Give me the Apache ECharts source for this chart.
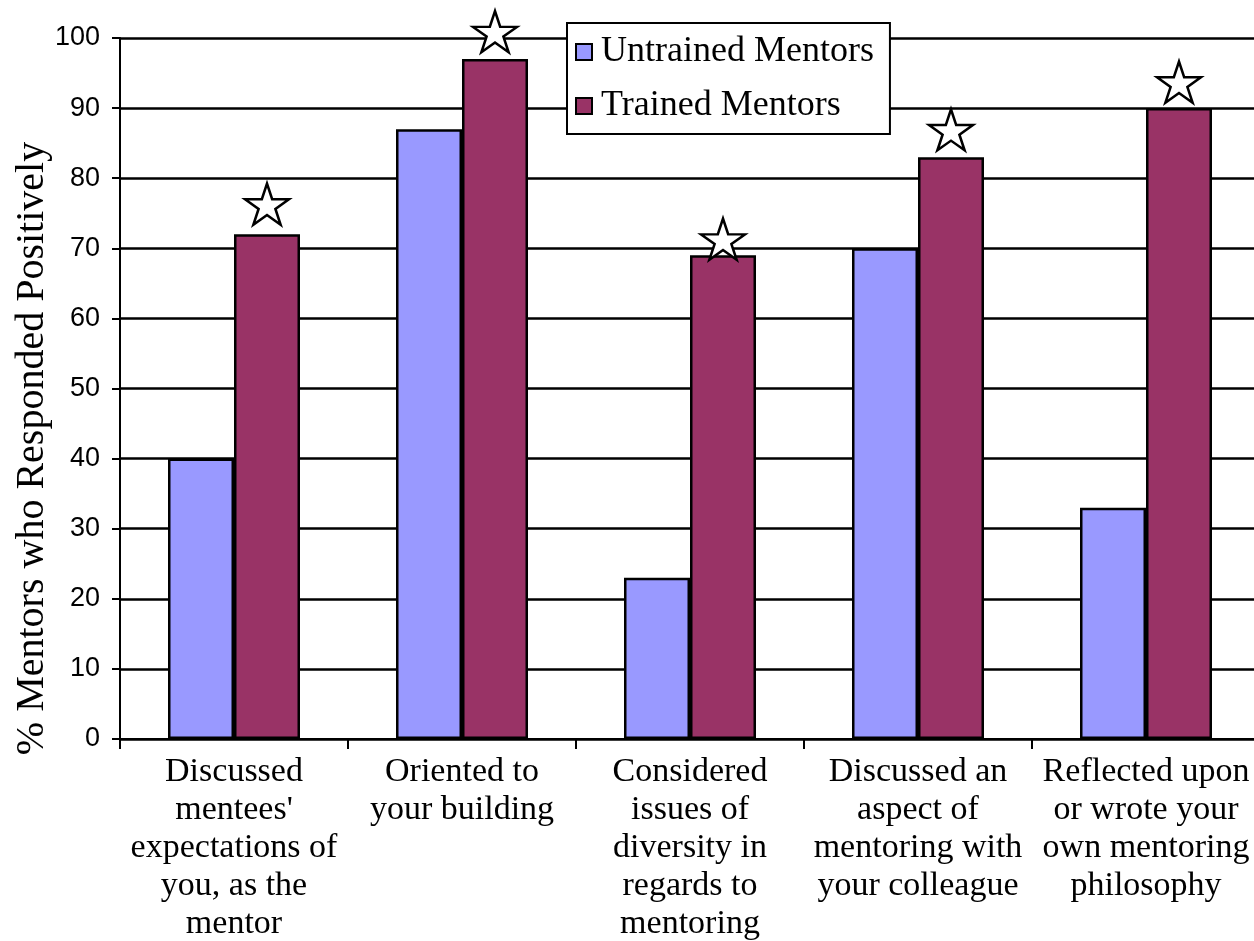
<!DOCTYPE html>
<html>
<head>
<meta charset="utf-8">
<script src="https://cdn.jsdelivr.net/npm/echarts@6/dist/echarts.min.js"></script>
<style>
html,body{margin:0;padding:0;background:#fff;}
#chart{width:1254px;height:941px;}
</style>
</head>
<body>
<div id="chart"></div>
<script>
var categories = [
  "Discussed\nmentees'\nexpectations of\nyou, as the\nmentor",
  "Oriented to\nyour building",
  "Considered\nissues of\ndiversity in\nregards to\nmentoring",
  "Discussed an\naspect of\nmentoring with\nyour colleague",
  "Reflected upon\nor wrote your\nown mentoring\nphilosophy"
];
var seriesNames = ["Untrained Mentors", "Trained Mentors"];
var untrained = [40, 87, 23, 70, 33];
var trained = [72, 97, 69, 83, 90];
// vertical level (in axis units) at which each significance star is drawn
var starLevels = [76.3, 100.9, 71.3, 86.9, 93.7];
var yTicks = [0, 100, 10];
var yTitle = "% Mentors who Responded Positively";

var starPath = 'path://M50 0 L61.23 34.55 L97.55 34.55 L68.16 55.9 L79.39 90.45 L50 69.1 L20.61 90.45 L31.84 55.9 L2.45 34.55 L38.77 34.55 Z';
var serif = '"Liberation Serif", "Times New Roman", serif';
var sans = '"Liberation Sans", Arial, sans-serif';

var chart = echarts.init(document.getElementById('chart'), null, {renderer: 'canvas'});
chart.setOption({
  animation: false,
  backgroundColor: '#ffffff',
  grid: {left: 120, top: 38, width: 1140, height: 701, containLabel: false, outerBoundsMode: 'none'},
  legend: {
    data: seriesNames,
    orient: 'vertical',
    left: 567, top: 23,
    padding: [9, 16, 8, 8],
    itemGap: 14,
    itemWidth: 16, itemHeight: 16,
    icon: 'rect',
    backgroundColor: '#ffffff',
    borderColor: '#000000', borderWidth: 2, borderRadius: 0,
    itemStyle: {borderColor: '#000000', borderWidth: 2},
    textStyle: {fontFamily: serif, fontSize: 36, color: '#000', lineHeight: 40, padding: [0, 0, 0, 4]}
  },
  xAxis: {
    type: 'category',
    data: categories,
    axisLine: {show: true, lineStyle: {color: '#000', width: 2}},
    axisTick: {show: true, length: 10, lineStyle: {color: '#000', width: 2}},
    axisLabel: {interval: 0, margin: 14, fontFamily: serif, fontSize: 34, lineHeight: 38, color: '#000'}
  },
  yAxis: {
    type: 'value',
    min: yTicks[0], max: yTicks[1], interval: yTicks[2],
    name: yTitle,
    nameLocation: 'middle',
    nameGap: 68,
    nameMoveOverlap: false,
    nameTextStyle: {fontFamily: serif, fontSize: 40, color: '#000', padding: [0, 120, 0, 0]},
    axisLine: {show: true, lineStyle: {color: '#000', width: 2}},
    axisTick: {show: true, length: 8, lineStyle: {color: '#000', width: 2}},
    axisLabel: {margin: 20, fontFamily: sans, fontSize: 27, color: '#000'},
    splitLine: {show: true, lineStyle: {color: '#000', width: 2.5}}
  },
  series: [
    {
      name: seriesNames[0], type: 'bar', data: untrained,
      barWidth: 66, barGap: '0%',
      itemStyle: {color: '#9999FF', borderColor: '#000', borderWidth: 2.5}
    },
    {
      name: seriesNames[1], type: 'bar', data: trained,
      barWidth: 66, barGap: '0%',
      itemStyle: {color: '#993366', borderColor: '#000', borderWidth: 2.5}
    },
    {
      type: 'scatter', data: starLevels, clip: false, z: 5,
      symbol: starPath, symbolSize: [44, 41], symbolOffset: [33, 0],
      itemStyle: {color: '#fff', borderColor: '#000', borderWidth: 2.5, opacity: 1},
      emphasis: {disabled: true},
      silent: true
    }
  ]
});
</script>
</body>
</html>
